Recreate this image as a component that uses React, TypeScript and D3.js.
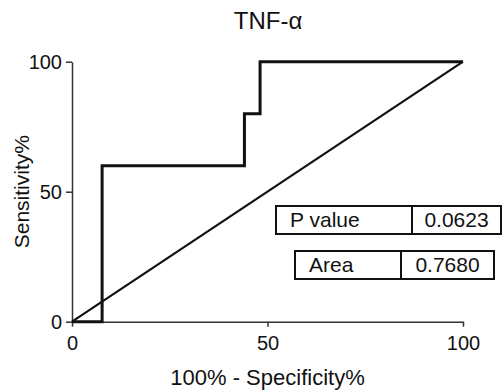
import { useEffect, useRef } from 'react';
import * as d3 from 'd3';

// ─── Data ───────────────────────────────────────────────────

const ROC_X = [0, 7.7, 7.7, 44.1, 44.1, 48.1, 48.1, 100];
const ROC_Y = [0, 0, 60, 60, 80, 80, 100, 100];
const DIAG_X = [0, 100];
const DIAG_Y = [0, 100];
const X_TICKS = [0, 50, 100];
const Y_TICKS = [0, 50, 100];
const STAT_LABELS = ['P value', 'Area'];
const STAT_VALUES = ['0.0623', '0.7680'];

// ─── Constants ──────────────────────────────────────────────

const W = 502;
const H = 391;
const PLOT = { left: 72, right: 463, top: 61.7, bottom: 321.7 };
const FONT = '"Liberation Sans", Arial, Helvetica, sans-serif';
const INK = '#111';

// table boxes
const BOXES = [
  { x: 276, y: 206, w: 225, h: 28, div: 412 },
  { x: 295, y: 251, w: 199, h: 28, div: 401 },
];

export default function App() {
  const svgRef = useRef<SVGSVGElement>(null);

  useEffect(() => {
    if (!svgRef.current) return;
    const svg = d3.select(svgRef.current);
    svg.selectAll('*').remove();

    const x = d3.scaleLinear().domain([0, 100]).range([PLOT.left, PLOT.right]);
    const y = d3.scaleLinear().domain([0, 100]).range([PLOT.bottom, PLOT.top]);
    const path = d3.line<[number, number]>().x((d) => x(d[0])).y((d) => y(d[1]));

    // Title
    svg.append('text')
      .attr('x', 268).attr('y', 29)
      .attr('text-anchor', 'middle')
      .attr('font-family', FONT).attr('font-size', 24)
      .attr('fill', INK)
      .text('TNF-α');

    // Axes
    const xAxis = svg.append('g')
      .attr('transform', `translate(0,${PLOT.bottom})`)
      .call(d3.axisBottom(x).tickValues(X_TICKS).tickSize(5).tickPadding(9).tickSizeOuter(0));
    const yAxis = svg.append('g')
      .attr('transform', `translate(${PLOT.left},0)`)
      .call(d3.axisLeft(y).tickValues(Y_TICKS).tickSize(6).tickPadding(4).tickSizeOuter(0));

    [xAxis, yAxis].forEach((ax) => {
      ax.select('.domain').attr('stroke', '#333').attr('stroke-width', 1.5);
      ax.selectAll('.tick line').attr('stroke', '#333').attr('stroke-width', 1.5);
      ax.selectAll('.tick text')
        .attr('font-family', FONT).attr('font-size', 20).attr('fill', INK);
    });

    // Axis titles
    svg.append('text')
      .attr('x', (PLOT.left + PLOT.right) / 2).attr('y', 385)
      .attr('text-anchor', 'middle')
      .attr('font-family', FONT).attr('font-size', 22).attr('fill', INK)
      .text('100% - Specificity%');
    svg.append('text')
      .attr('transform', `translate(29,${(PLOT.top + PLOT.bottom) / 2}) rotate(-90)`)
      .attr('text-anchor', 'middle')
      .attr('font-family', FONT).attr('font-size', 21).attr('fill', INK)
      .text('Sensitivity%');

    // Diagonal reference line
    svg.append('path')
      .attr('d', path(DIAG_X.map((v, i) => [v, DIAG_Y[i]])))
      .attr('fill', 'none').attr('stroke', INK).attr('stroke-width', 2.2);

    // ROC curve
    svg.append('path')
      .attr('d', path(ROC_X.map((v, i) => [v, ROC_Y[i]])))
      .attr('fill', 'none').attr('stroke', INK).attr('stroke-width', 3)
      .attr('stroke-linejoin', 'miter');

    // Stat boxes
    BOXES.forEach((b, i) => {
      const g = svg.append('g');
      g.append('rect')
        .attr('x', b.x).attr('y', b.y).attr('width', b.w).attr('height', b.h)
        .attr('fill', '#fff').attr('stroke', INK).attr('stroke-width', 2);
      g.append('line')
        .attr('x1', b.div).attr('x2', b.div).attr('y1', b.y).attr('y2', b.y + b.h)
        .attr('stroke', INK).attr('stroke-width', 2);
      g.append('text')
        .attr('x', b.x + 14).attr('y', b.y + 21)
        .attr('font-family', FONT).attr('font-size', 21).attr('fill', INK)
        .text(STAT_LABELS[i]);
      g.append('text')
        .attr('x', (b.div + b.x + b.w) / 2).attr('y', b.y + 21)
        .attr('text-anchor', 'middle')
        .attr('font-family', FONT).attr('font-size', 21).attr('fill', INK)
        .text(STAT_VALUES[i]);
    });
  }, []);

  return (
    <svg
      ref={svgRef}
      width={W}
      height={H}
      style={{ position: 'fixed', left: 0, top: 0, background: '#fff', display: 'block' }}
    />
  );
}
